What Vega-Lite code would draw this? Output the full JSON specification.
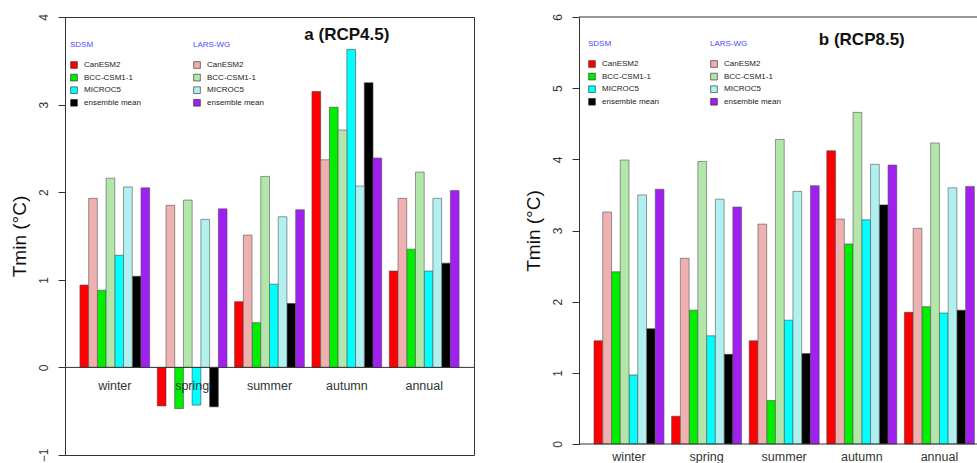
{
  "$schema": "https://vega.github.io/schema/vega-lite/v6.json",
  "padding": {"left": 9, "top": 13, "right": 0, "bottom": 0},
  "background": "white",
  "spacing": 49,
  "config": {
    "font": "Liberation Sans",
    "axis": {"labelFont": "Liberation Sans", "titleFont": "Liberation Sans"},
    "legend": {"labelFont": "Liberation Sans", "titleFont": "Liberation Sans", "orient": "none", "symbolType": "square", "symbolSize": 45,
               "symbolStrokeColor": "#222", "symbolStrokeWidth": 0.6, "labelFontSize": 8, "labelColor": "#222", "labelOffset": 6,
               "rowPadding": 2.6, "titleFontSize": 8, "titleFontWeight": "normal", "titleColor": "#4848ff", "titlePadding": 12,
               "titleAnchor": "start", "padding": 0}
  },
  "datasets": {
    "ra": [
      {"s":"winter","d":"SDSM","m":"CanESM2","k":"S1","v":0.94},{"s":"winter","d":"LARS-WG","m":"CanESM2","k":"L1","v":1.93},
      {"s":"winter","d":"SDSM","m":"BCC-CSM1-1","k":"S2","v":0.88},{"s":"winter","d":"LARS-WG","m":"BCC-CSM1-1","k":"L2","v":2.16},
      {"s":"winter","d":"SDSM","m":"MICROC5","k":"S3","v":1.28},{"s":"winter","d":"LARS-WG","m":"MICROC5","k":"L3","v":2.06},
      {"s":"winter","d":"SDSM","m":"ensemble mean","k":"S4","v":1.04},{"s":"winter","d":"LARS-WG","m":"ensemble mean","k":"L4","v":2.05},
      {"s":"spring","d":"SDSM","m":"CanESM2","k":"S1","v":-0.44},{"s":"spring","d":"LARS-WG","m":"CanESM2","k":"L1","v":1.85},
      {"s":"spring","d":"SDSM","m":"BCC-CSM1-1","k":"S2","v":-0.47},{"s":"spring","d":"LARS-WG","m":"BCC-CSM1-1","k":"L2","v":1.91},
      {"s":"spring","d":"SDSM","m":"MICROC5","k":"S3","v":-0.43},{"s":"spring","d":"LARS-WG","m":"MICROC5","k":"L3","v":1.69},
      {"s":"spring","d":"SDSM","m":"ensemble mean","k":"S4","v":-0.45},{"s":"spring","d":"LARS-WG","m":"ensemble mean","k":"L4","v":1.81},
      {"s":"summer","d":"SDSM","m":"CanESM2","k":"S1","v":0.75},{"s":"summer","d":"LARS-WG","m":"CanESM2","k":"L1","v":1.51},
      {"s":"summer","d":"SDSM","m":"BCC-CSM1-1","k":"S2","v":0.51},{"s":"summer","d":"LARS-WG","m":"BCC-CSM1-1","k":"L2","v":2.18},
      {"s":"summer","d":"SDSM","m":"MICROC5","k":"S3","v":0.95},{"s":"summer","d":"LARS-WG","m":"MICROC5","k":"L3","v":1.72},
      {"s":"summer","d":"SDSM","m":"ensemble mean","k":"S4","v":0.73},{"s":"summer","d":"LARS-WG","m":"ensemble mean","k":"L4","v":1.80},
      {"s":"autumn","d":"SDSM","m":"CanESM2","k":"S1","v":3.15},{"s":"autumn","d":"LARS-WG","m":"CanESM2","k":"L1","v":2.37},
      {"s":"autumn","d":"SDSM","m":"BCC-CSM1-1","k":"S2","v":2.97},{"s":"autumn","d":"LARS-WG","m":"BCC-CSM1-1","k":"L2","v":2.71},
      {"s":"autumn","d":"SDSM","m":"MICROC5","k":"S3","v":3.63},{"s":"autumn","d":"LARS-WG","m":"MICROC5","k":"L3","v":2.07},
      {"s":"autumn","d":"SDSM","m":"ensemble mean","k":"S4","v":3.25},{"s":"autumn","d":"LARS-WG","m":"ensemble mean","k":"L4","v":2.39},
      {"s":"annual","d":"SDSM","m":"CanESM2","k":"S1","v":1.10},{"s":"annual","d":"LARS-WG","m":"CanESM2","k":"L1","v":1.93},
      {"s":"annual","d":"SDSM","m":"BCC-CSM1-1","k":"S2","v":1.35},{"s":"annual","d":"LARS-WG","m":"BCC-CSM1-1","k":"L2","v":2.23},
      {"s":"annual","d":"SDSM","m":"MICROC5","k":"S3","v":1.10},{"s":"annual","d":"LARS-WG","m":"MICROC5","k":"L3","v":1.93},
      {"s":"annual","d":"SDSM","m":"ensemble mean","k":"S4","v":1.19},{"s":"annual","d":"LARS-WG","m":"ensemble mean","k":"L4","v":2.02}
    ],
    "rb": [
      {"s":"winter","d":"SDSM","m":"CanESM2","k":"S1","v":1.45},{"s":"winter","d":"LARS-WG","m":"CanESM2","k":"L1","v":3.26},
      {"s":"winter","d":"SDSM","m":"BCC-CSM1-1","k":"S2","v":2.42},{"s":"winter","d":"LARS-WG","m":"BCC-CSM1-1","k":"L2","v":3.99},
      {"s":"winter","d":"SDSM","m":"MICROC5","k":"S3","v":0.97},{"s":"winter","d":"LARS-WG","m":"MICROC5","k":"L3","v":3.50},
      {"s":"winter","d":"SDSM","m":"ensemble mean","k":"S4","v":1.62},{"s":"winter","d":"LARS-WG","m":"ensemble mean","k":"L4","v":3.58},
      {"s":"spring","d":"SDSM","m":"CanESM2","k":"S1","v":0.39},{"s":"spring","d":"LARS-WG","m":"CanESM2","k":"L1","v":2.61},
      {"s":"spring","d":"SDSM","m":"BCC-CSM1-1","k":"S2","v":1.88},{"s":"spring","d":"LARS-WG","m":"BCC-CSM1-1","k":"L2","v":3.97},
      {"s":"spring","d":"SDSM","m":"MICROC5","k":"S3","v":1.52},{"s":"spring","d":"LARS-WG","m":"MICROC5","k":"L3","v":3.44},
      {"s":"spring","d":"SDSM","m":"ensemble mean","k":"S4","v":1.26},{"s":"spring","d":"LARS-WG","m":"ensemble mean","k":"L4","v":3.33},
      {"s":"summer","d":"SDSM","m":"CanESM2","k":"S1","v":1.45},{"s":"summer","d":"LARS-WG","m":"CanESM2","k":"L1","v":3.09},
      {"s":"summer","d":"SDSM","m":"BCC-CSM1-1","k":"S2","v":0.61},{"s":"summer","d":"LARS-WG","m":"BCC-CSM1-1","k":"L2","v":4.28},
      {"s":"summer","d":"SDSM","m":"MICROC5","k":"S3","v":1.74},{"s":"summer","d":"LARS-WG","m":"MICROC5","k":"L3","v":3.55},
      {"s":"summer","d":"SDSM","m":"ensemble mean","k":"S4","v":1.27},{"s":"summer","d":"LARS-WG","m":"ensemble mean","k":"L4","v":3.63},
      {"s":"autumn","d":"SDSM","m":"CanESM2","k":"S1","v":4.12},{"s":"autumn","d":"LARS-WG","m":"CanESM2","k":"L1","v":3.16},
      {"s":"autumn","d":"SDSM","m":"BCC-CSM1-1","k":"S2","v":2.81},{"s":"autumn","d":"LARS-WG","m":"BCC-CSM1-1","k":"L2","v":4.66},
      {"s":"autumn","d":"SDSM","m":"MICROC5","k":"S3","v":3.15},{"s":"autumn","d":"LARS-WG","m":"MICROC5","k":"L3","v":3.93},
      {"s":"autumn","d":"SDSM","m":"ensemble mean","k":"S4","v":3.36},{"s":"autumn","d":"LARS-WG","m":"ensemble mean","k":"L4","v":3.92},
      {"s":"annual","d":"SDSM","m":"CanESM2","k":"S1","v":1.85},{"s":"annual","d":"LARS-WG","m":"CanESM2","k":"L1","v":3.03},
      {"s":"annual","d":"SDSM","m":"BCC-CSM1-1","k":"S2","v":1.93},{"s":"annual","d":"LARS-WG","m":"BCC-CSM1-1","k":"L2","v":4.23},
      {"s":"annual","d":"SDSM","m":"MICROC5","k":"S3","v":1.84},{"s":"annual","d":"LARS-WG","m":"MICROC5","k":"L3","v":3.60},
      {"s":"annual","d":"SDSM","m":"ensemble mean","k":"S4","v":1.88},{"s":"annual","d":"LARS-WG","m":"ensemble mean","k":"L4","v":3.62}
    ],
    "seasons": [{"s":"winter"},{"s":"spring"},{"s":"summer"},{"s":"autumn"},{"s":"annual"}]
  },
  "resolve": {
    "scale": {"x": "independent", "y": "independent", "color": "independent", "xOffset": "independent"},
    "legend": {"color": "independent"},
    "axis": {"y": "independent"}
  },
  "hconcat": [
    {
      "width": 409,
      "height": 438,
      "view": {"stroke": "#333", "strokeWidth": 1},
      "resolve": {"scale": {"color": "independent"}, "legend": {"color": "independent"}},
      "layer": [
        {
          "data": {"name": "ra"},
          "transform": [{"filter": "datum.d === 'SDSM'"}],
          "mark": {"type": "bar", "stroke": "#444", "strokeWidth": 0.6},
          "encoding": {
            "x": {"field": "s", "type": "nominal", "sort": null, "axis": null,
                  "scale": {"domain": ["winter","spring","summer","autumn","annual"], "paddingInner": 0.098, "paddingOuter": 0.193}},
            "xOffset": {"field": "k", "type": "nominal", "scale": {"domain": ["S1","L1","S2","L2","S3","L3","S4","L4"], "paddingInner": 0, "paddingOuter": 0}},
            "y": {"field": "v", "type": "quantitative",
                  "scale": {"domain": [-1, 4], "nice": false, "zero": false},
                  "axis": {"title": "Tmin (°C)", "values": [-1,0,1,2,3,4], "format": "d", "grid": false, "domainColor": "#333", "tickColor": "#333", "tickSize": 7,
                           "labelAngle": 270, "labelAlign": "center", "labelBaseline": "bottom", "labelPadding": 8, "labelFontSize": 12, "labelColor": "#333",
                           "titleFontSize": 19, "titleFontWeight": "normal", "titleColor": "#111", "titlePadding": 8}},
            "color": {"field": "m", "type": "nominal",
                      "scale": {"domain": ["CanESM2","BCC-CSM1-1","MICROC5","ensemble mean"], "range": ["#ff0000","#00ee00","#00ffff","#000000"]},
                      "legend": {"title": "SDSM", "legendX": 5, "legendY": 24}}
          }
        },
        {
          "data": {"name": "ra"},
          "transform": [{"filter": "datum.d === 'LARS-WG'"}],
          "mark": {"type": "bar", "stroke": "#555", "strokeWidth": 0.6},
          "encoding": {
            "x": {"field": "s", "type": "nominal", "sort": null, "axis": null},
            "xOffset": {"field": "k", "type": "nominal"},
            "y": {"field": "v", "type": "quantitative"},
            "color": {"field": "m", "type": "nominal",
                      "scale": {"domain": ["CanESM2","BCC-CSM1-1","MICROC5","ensemble mean"], "range": ["#efb0b0","#b2e6aa","#b0f0f0","#a020f0"]},
                      "legend": {"title": "LARS-WG", "legendX": 128, "legendY": 24}}
          }
        },
        {
          "data": {"values": [{}]},
          "mark": {"type": "rule", "color": "#333", "strokeWidth": 1},
          "encoding": {"y": {"datum": 0}}
        },
        {
          "data": {"name": "seasons"},
          "mark": {"type": "text", "fontSize": 12.5, "color": "#333", "baseline": "alphabetic", "dy": 23},
          "encoding": {"x": {"field": "s", "type": "nominal", "sort": null, "axis": null}, "y": {"datum": 0}, "text": {"field": "s"}}
        },
        {
          "data": {"values": [{"t": "a (RCP4.5)"}]},
          "mark": {"type": "text", "fontSize": 17, "fontWeight": "bold", "color": "#111", "baseline": "middle"},
          "encoding": {"x": {"datum": "autumn"}, "y": {"datum": 3.795}, "text": {"field": "t"}}
        }
      ]
    },
    {
      "width": 399,
      "height": 427,
      "view": {"stroke": null},
      "resolve": {"scale": {"color": "independent"}, "legend": {"color": "independent"}},
      "layer": [
        {
          "data": {"name": "rb"},
          "transform": [{"filter": "datum.d === 'SDSM'"}],
          "mark": {"type": "bar", "stroke": "#444", "strokeWidth": 0.6},
          "encoding": {
            "x": {"field": "s", "type": "nominal", "sort": null, "axis": null,
                  "scale": {"domain": ["winter","spring","summer","autumn","annual"], "paddingInner": 0.098, "paddingOuter": 0.12, "align": 0.806}},
            "xOffset": {"field": "k", "type": "nominal", "scale": {"domain": ["S1","L1","S2","L2","S3","L3","S4","L4"], "paddingInner": 0, "paddingOuter": 0}},
            "y": {"field": "v", "type": "quantitative",
                  "scale": {"domain": [0, 6], "nice": false, "zero": false},
                  "axis": {"title": "Tmin (°C)", "values": [0,1,2,3,4,5,6], "format": "d", "grid": false, "domainColor": "#333", "tickColor": "#333", "tickSize": 7,
                           "labelAngle": 270, "labelAlign": "center", "labelBaseline": "bottom", "labelPadding": 8, "labelFontSize": 12, "labelColor": "#333",
                           "titleFontSize": 19, "titleFontWeight": "normal", "titleColor": "#111", "titlePadding": 8}},
            "color": {"field": "m", "type": "nominal",
                      "scale": {"domain": ["CanESM2","BCC-CSM1-1","MICROC5","ensemble mean"], "range": ["#ff0000","#00ee00","#00ffff","#000000"]},
                      "legend": {"title": "SDSM", "legendX": 9, "legendY": 23}}
          }
        },
        {
          "data": {"name": "rb"},
          "transform": [{"filter": "datum.d === 'LARS-WG'"}],
          "mark": {"type": "bar", "stroke": "#555", "strokeWidth": 0.6},
          "encoding": {
            "x": {"field": "s", "type": "nominal", "sort": null, "axis": null},
            "xOffset": {"field": "k", "type": "nominal"},
            "y": {"field": "v", "type": "quantitative"},
            "color": {"field": "m", "type": "nominal",
                      "scale": {"domain": ["CanESM2","BCC-CSM1-1","MICROC5","ensemble mean"], "range": ["#efb0b0","#b2e6aa","#b0f0f0","#a020f0"]},
                      "legend": {"title": "LARS-WG", "legendX": 131, "legendY": 23}}
          }
        },
        {
          "data": {"values": [{}]},
          "mark": {"type": "rule", "color": "#333", "strokeWidth": 1},
          "encoding": {"y": {"datum": 0}}
        },
        {
          "data": {"values": [{}]},
          "mark": {"type": "rule", "color": "#333", "strokeWidth": 1},
          "encoding": {"y": {"datum": 6}}
        },
        {
          "data": {"name": "seasons"},
          "mark": {"type": "text", "fontSize": 12.5, "color": "#333", "baseline": "alphabetic", "dy": 17},
          "encoding": {"x": {"field": "s", "type": "nominal", "sort": null, "axis": null}, "y": {"datum": 0}, "text": {"field": "s"}}
        },
        {
          "data": {"values": [{"t": "b (RCP8.5)"}]},
          "mark": {"type": "text", "fontSize": 17, "fontWeight": "bold", "color": "#111", "baseline": "middle"},
          "encoding": {"x": {"datum": "autumn"}, "y": {"datum": 5.68}, "text": {"field": "t"}}
        }
      ]
    }
  ]
}
